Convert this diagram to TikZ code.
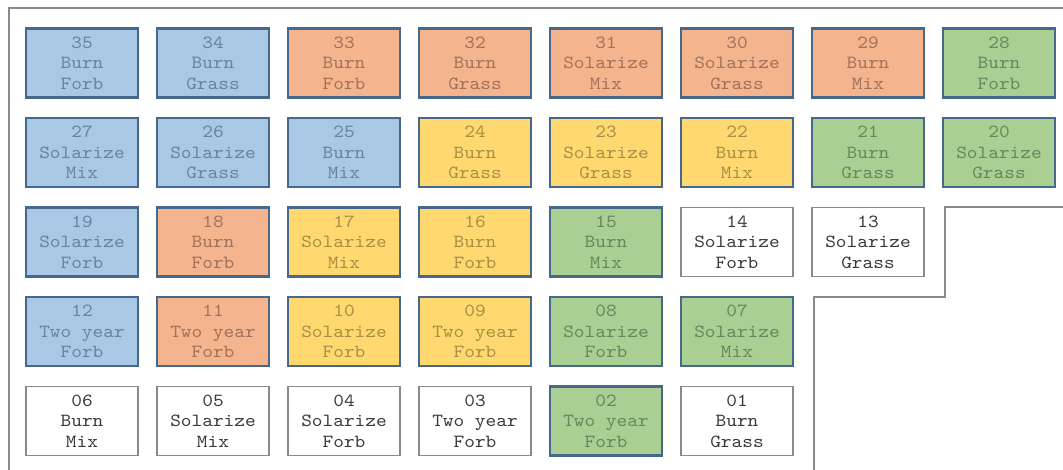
\documentclass[tikz,border=0pt]{standalone}
\usepackage{fontspec}
\newfontfamily\plotfont{lmmono10-regular.otf}[FakeStretch=1.1]
\definecolor{bluefill}{HTML}{A9C8E6}
\definecolor{bluetext}{HTML}{6683A0}
\definecolor{orangefill}{HTML}{F4B48E}
\definecolor{orangetext}{HTML}{A0725A}
\definecolor{yellowfill}{HTML}{FFD970}
\definecolor{yellowtext}{HTML}{A88E44}
\definecolor{greenfill}{HTML}{AACF92}
\definecolor{greentext}{HTML}{66865C}
\definecolor{edgedark}{HTML}{46688A}
\definecolor{edgegrey}{HTML}{8A8A8A}
\definecolor{plaintext}{HTML}{3A3A3A}
\tikzset{
  plot/.style={rectangle, minimum width=112pt, minimum height=69pt, inner sep=0pt,
    align=center, font=\plotfont\fontsize{18.5}{20.5}\selectfont},
  pblue/.style={plot, fill=bluefill, draw=edgedark, line width=2.2pt, text=bluetext},
  porange/.style={plot, fill=orangefill, draw=edgedark, line width=2.2pt, text=orangetext},
  pyellow/.style={plot, fill=yellowfill, draw=edgedark, line width=2.2pt, text=yellowtext},
  pgreen/.style={plot, fill=greenfill, draw=edgedark, line width=2.2pt, text=greentext},
  pwhite/.style={plot, fill=white, draw=edgegrey, line width=1.1pt, text=plaintext},
  border/.style={draw=edgegrey, line width=1.3pt}
}
\begin{document}
\begin{tikzpicture}[x=1pt, y=-1pt]
\useasboundingbox (0,0) rectangle (1063,470);
% outer frame
\coordinate (tl) at (9,8);
\coordinate (tr) at (1063,8);
\coordinate (bl) at (9,470);
\draw[border] (bl) -- (tl) -- (tr);
\coordinate (s1) at (1063,207);
\coordinate (s2) at (945,207);
\coordinate (s3) at (945,297);
\coordinate (s4) at (814,297);
\coordinate (s5) at (814,470);
\draw[border] (s1) -- (s2) -- (s3) -- (s4) -- (s5);
% plots
\foreach \c/\r/\n/\a/\b/\s in {
 1/1/35/Burn/Forb/pblue, 2/1/34/Burn/Grass/pblue, 3/1/33/Burn/Forb/porange, 4/1/32/Burn/Grass/porange,
 5/1/31/Solarize/Mix/porange, 6/1/30/Solarize/Grass/porange, 7/1/29/Burn/Mix/porange, 8/1/28/Burn/Forb/pgreen,
 1/2/27/Solarize/Mix/pblue, 2/2/26/Solarize/Grass/pblue, 3/2/25/Burn/Mix/pblue, 4/2/24/Burn/Grass/pyellow,
 5/2/23/Solarize/Grass/pyellow, 6/2/22/Burn/Mix/pyellow, 7/2/21/Burn/Grass/pgreen, 8/2/20/Solarize/Grass/pgreen,
 1/3/19/Solarize/Forb/pblue, 2/3/18/Burn/Forb/porange, 3/3/17/Solarize/Mix/pyellow, 4/3/16/Burn/Forb/pyellow,
 5/3/15/Burn/Mix/pgreen, 6/3/14/Solarize/Forb/pwhite, 7/3/13/Solarize/Grass/pwhite,
 1/4/12/Two year/Forb/pblue, 2/4/11/Two year/Forb/porange, 3/4/10/Solarize/Forb/pyellow,
 4/4/09/Two year/Forb/pyellow, 5/4/08/Solarize/Forb/pgreen, 6/4/07/Solarize/Mix/pgreen,
 1/5/06/Burn/Mix/pwhite, 2/5/05/Solarize/Mix/pwhite, 3/5/04/Solarize/Forb/pwhite,
 4/5/03/Two year/Forb/pwhite, 5/5/02/Two year/Forb/pgreen, 6/5/01/Burn/Grass/pwhite}
{
  \node[\s] (p\n) at ({82+131*(\c-1)}, {63+89.5*(\r-1)}) {\n\\\a\\\b};
}
\end{tikzpicture}
\end{document}
